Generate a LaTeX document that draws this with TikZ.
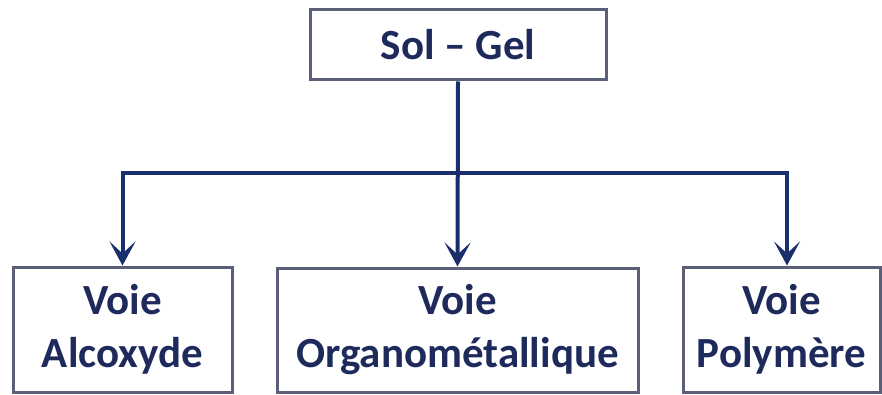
\documentclass[tikz,border=0pt]{standalone}
\usepackage{fontspec}
\setmainfont{Carlito}
\usetikzlibrary{arrows.meta}
\definecolor{boxline}{HTML}{5B6078}
\definecolor{txt}{HTML}{1F2A5C}
\definecolor{arr}{HTML}{1A2E6C}
\begin{document}
\begin{tikzpicture}[x=1pt,y=-1pt,
  box/.style={draw=boxline,line width=3pt,fill=white,text=txt,
    font=\fontsize{43}{53}\selectfont\bfseries,align=center,inner sep=0pt},
  link/.style={draw=arr,line width=4pt},
  arrowlink/.style={link,-{Stealth[length=24pt,width=26pt,inset=12pt]}}]
\useasboundingbox (0,0) rectangle (882,395);
\node[box,minimum width=296pt,minimum height=70pt] (top) at (458,45) {Sol – Gel};
\node[box,minimum width=219pt,minimum height=125pt] (left) at (122.5,329.5) {Voie\\Alcoxyde};
\node[box,minimum width=361pt,minimum height=124pt] (mid) at (457.5,330) {Voie\\Organométallique};
\node[box,minimum width=197pt,minimum height=125pt] (right) at (781.5,329.5) {Voie\\Polymère};
\coordinate (h) at (458,173);
\draw[arrowlink] (top.south) -- (mid.north);
\draw[arrowlink] (h) -| (left.north);
\draw[arrowlink] (h) -| ([xshift=5.5pt]right.north);
\end{tikzpicture}
\end{document}
